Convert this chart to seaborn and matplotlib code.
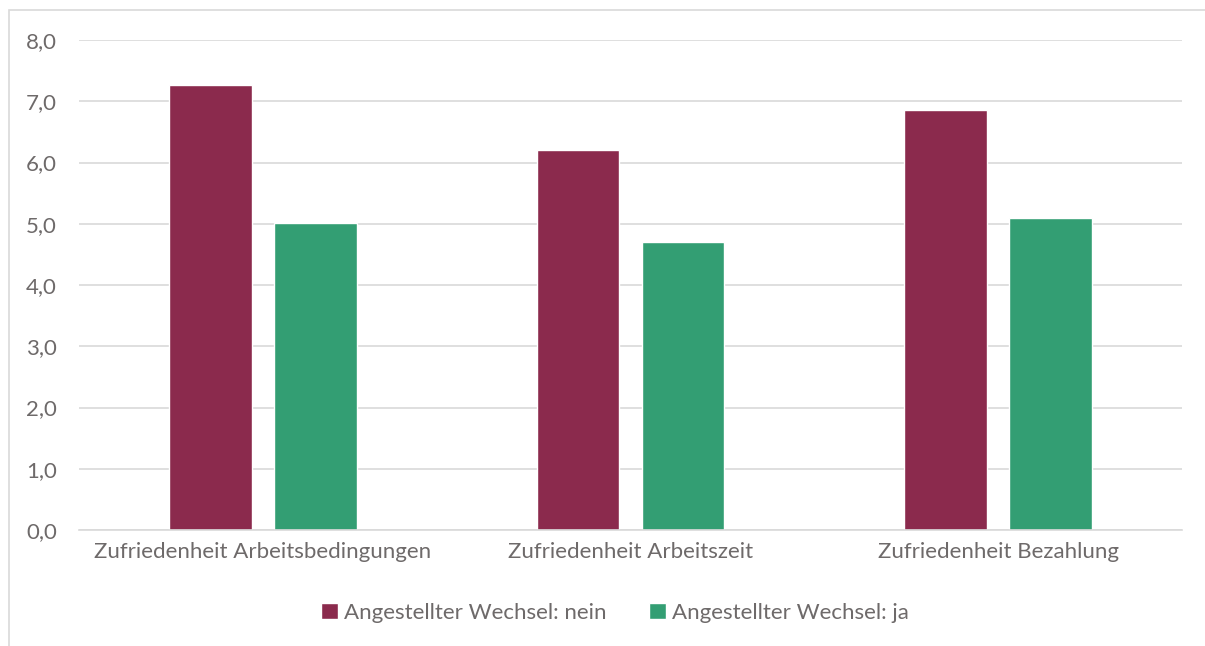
import pandas as pd
import seaborn as sns
import matplotlib.pyplot as plt
from matplotlib.patches import Rectangle
from matplotlib.ticker import FuncFormatter

categories = ['Zufriedenheit Arbeitsbedingungen', 'Zufriedenheit Arbeitszeit', 'Zufriedenheit Bezahlung']
series = ['Angestellter Wechsel: nein', 'Angestellter Wechsel: ja']
values_nein = [7.26, 6.21, 6.86]
values_ja = [5.02, 4.70, 5.10]
colors = ['#8B2A4D', '#339E73']
yticks = [0, 1, 2, 3, 4, 5, 6, 7, 8]

df = pd.DataFrame({
    'category': categories * 2,
    'series': [series[0]] * 3 + [series[1]] * 3,
    'value': values_nein + values_ja,
})

sns.set_style('white')
plt.rcParams['font.family'] = ['Lato', 'DejaVu Sans']
text_color = '#6E6A6A'
grid_color = '#D9D9D9'

fig = plt.figure(figsize=(12.05, 6.46), dpi=100)
ax = fig.add_axes([79 / 1205, 1 - 530 / 646, (1182 - 79) / 1205, 490 / 646])

sns.barplot(data=df, x='category', y='value', hue='series', palette=colors,
            width=0.57, gap=0.21, saturation=1, ax=ax, legend=True)

ax.set_ylim(0, 8)
ax.set_yticks(yticks)
ax.yaxis.set_major_formatter(FuncFormatter(lambda v, p: f'{v:.1f}'.replace('.', ',')))
ax.set_xlim(-0.5, 2.5)
ax.grid(axis='y', color=grid_color, linewidth=1.2)
ax.set_axisbelow(True)
for s in ['top', 'right', 'left']:
    ax.spines[s].set_visible(False)
ax.spines['bottom'].set_color(grid_color)
ax.spines['bottom'].set_linewidth(1.2)
ax.tick_params(axis='both', length=0, labelsize=16, colors=text_color, pad=9)
ax.tick_params(axis='y', pad=16)
ax.set_xlabel('')
ax.set_ylabel('')

handles, labels = ax.get_legend_handles_labels()
ax.get_legend().remove()
fig.legend(handles, labels, loc='center', bbox_to_anchor=(615 / 1205, 1 - 613 / 646),
           ncol=2, frameon=False, fontsize=16, labelcolor=text_color,
           handlelength=0.75, handleheight=0.75, handletextpad=0.3, columnspacing=1.9)

fig.patches.append(Rectangle((9 / 1205, -0.05), 1.1, 1.05 - 10 / 646,
                             transform=fig.transFigure, fill=False,
                             edgecolor='#D9D9D9', linewidth=1.2))

fig.savefig('out.png', dpi=100)
